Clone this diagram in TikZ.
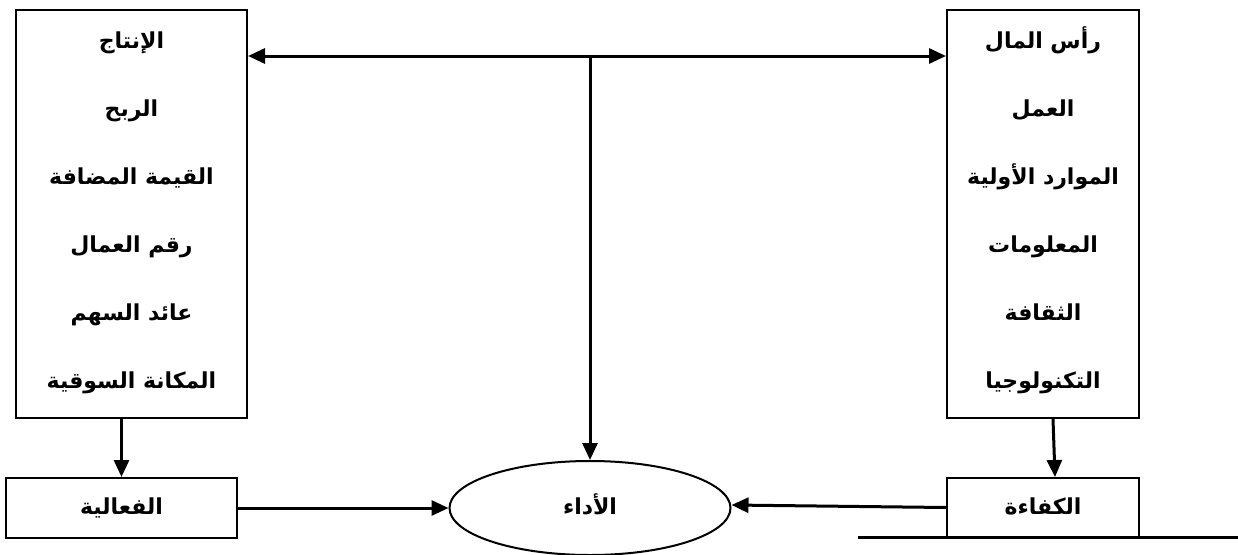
\documentclass[tikz,border=0pt]{standalone}
\usepackage{fontspec}
\usetikzlibrary{arrows.meta,shapes.geometric}
\TeXXeTstate=1
\newfontfamily\arabicfont[Script=Arabic]{DejaVu Sans}
\newcommand{\artext}[1]{{\arabicfont\bfseries\beginR #1\endR}}

\tikzset{
  frame/.style={draw, line width=2pt, rectangle, inner sep=0pt},
  item/.style={anchor=base, inner sep=0pt, font=\fontsize{22}{24}\selectfont},
  conn/.style={line width=3pt, -{Triangle[length=17pt,width=15pt]}},
  twoway/.style={line width=3pt, {Triangle[length=17pt,width=15pt]}-{Triangle[length=17pt,width=15pt]}},
  plain/.style={line width=3pt}
}

\begin{document}
\begin{tikzpicture}[x=1pt,y=-1pt]
\useasboundingbox (0,0) rectangle (1238,554);

% indicator boxes
\node[frame, minimum width=231pt, minimum height=408pt] (L) at (131.5,214) {};
\node[frame, minimum width=192pt, minimum height=408pt] (R) at (1043,214) {};

% result boxes and the central ellipse
\node[frame, minimum width=231pt, minimum height=60pt] (eff) at (121.5,508) {};
\node[frame, minimum width=192pt, minimum height=59pt] (kaf) at (1043,507.5) {};
\node[draw, ellipse, line width=2pt, minimum width=281pt, minimum height=94pt, inner sep=0pt] (E) at (590,508) {};

% output indicators
\node[item] (l1) at (131.5,48)  {\artext{الإنتاج}};
\node[item] (l2) at (131.5,116) {\artext{الربح}};
\node[item] (l3) at (131.5,184) {\artext{القيمة المضافة}};
\node[item] (l4) at (131.5,252) {\artext{رقم العمال}};
\node[item] (l5) at (131.5,320) {\artext{عائد السهم}};
\node[item] (l6) at (131.5,388) {\artext{المكانة السوقية}};

% input resources
\node[item] (r1) at (1043,48)  {\artext{رأس المال}};
\node[item] (r2) at (1043,116) {\artext{العمل}};
\node[item] (r3) at (1043,184) {\artext{الموارد الأولية}};
\node[item] (r4) at (1043,252) {\artext{المعلومات}};
\node[item] (r5) at (1043,320) {\artext{الثقافة}};
\node[item] (r6) at (1043,388) {\artext{التكنولوجيا}};

\node[item] (t1) at (121.5,514) {\artext{الفعالية}};
\node[item] (t2) at (1043,514) {\artext{الكفاءة}};
\node[item] (t3) at (590,514) {\artext{الأداء}};

% connectors
\coordinate (hub) at (590,56);
\draw[twoway] (hub -| L.east) -- (hub -| R.west);
\draw[conn] (hub) -- (E.north);
\draw[conn] (eff.north |- L.south) -- (eff.north);
\draw[conn] ([xshift=10pt]R.south) -- ([xshift=12pt]kaf.north);
\draw[conn] (eff.east) -- (E.west);
\draw[conn] (kaf.west) -- ([yshift=3pt]E.east);

\coordinate (baseA) at (858,537);
\coordinate (baseB) at (1238,537);
\draw[plain] (baseA) -- (baseB);
\end{tikzpicture}
\end{document}
